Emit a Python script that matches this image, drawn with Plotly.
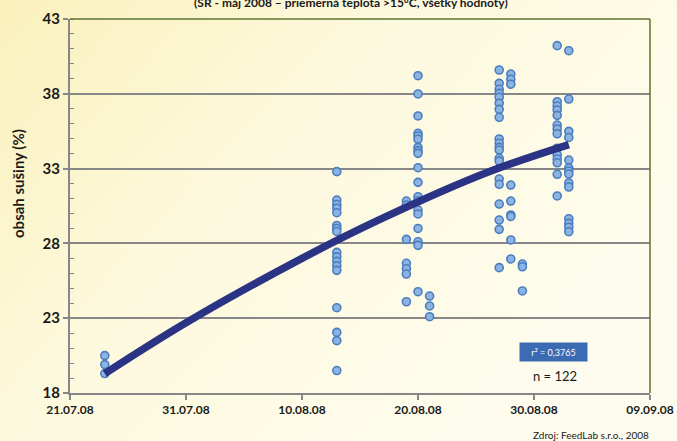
import plotly.graph_objects as go

# ---- data ----
sample_dates = ['2008-07-24', '2008-08-13', '2008-08-19', '2008-08-20', '2008-08-21',
                '2008-08-27', '2008-08-28', '2008-08-29', '2008-09-01', '2008-09-02']
vals_0724 = [20.5, 19.9, 19.3]
vals_0813 = [32.8, 30.9, 30.6, 30.35, 30.05, 29.2, 29.0, 28.8, 27.4, 27.1, 26.8, 26.5, 26.2,
             23.7, 22.05, 21.5, 19.5]
vals_0819 = [30.83, 30.57, 28.27, 26.67, 26.31, 25.95, 24.1]
vals_0820 = [39.21, 37.99, 36.52, 35.36, 35.18, 34.96, 34.42, 34.2, 34.02, 33.06, 32.08, 31.12,
             30.85, 30.23, 29.97, 29.0, 28.11, 27.87, 24.77]
vals_0821 = [24.48, 23.82, 23.1]
vals_0827 = [39.59, 38.70, 38.30, 38.03, 37.77, 37.37, 36.96, 36.43, 34.98, 34.69, 34.42, 34.24,
             33.69, 33.5, 32.30, 31.95, 30.63, 29.56, 28.94, 26.38]
vals_0828 = [39.32, 38.97, 38.64, 31.9, 30.83, 29.9, 29.8, 28.23, 26.96]
vals_0829 = [26.62, 26.44, 24.82]
vals_0901 = [41.22, 37.47, 37.18, 36.92, 36.56, 35.91, 35.65, 35.33, 34.36, 33.91, 33.64, 33.39,
             32.62, 31.17]
vals_0902 = [40.88, 37.65, 35.49, 35.08, 33.57, 33.04, 32.84, 32.64, 32.04, 31.77, 29.65, 29.34,
             29.08, 28.78]

trend_dates = ['2008-07-24', '2008-07-31', '2008-08-10', '2008-08-17', '2008-08-26', '2008-09-02']
trend_vals = [19.3, 22.7, 27.0, 29.7, 32.75, 34.6]

x_tick_vals = ['2008-07-21', '2008-07-31', '2008-08-10', '2008-08-20', '2008-08-30', '2008-09-09']
x_tick_text = ['21.07.08', '31.07.08', '10.08.08', '20.08.08', '30.08.08', '09.09.08']

title_text = '(SR - máj 2008 – priemerná teplota >15°C, všetky hodnoty)'
y_title = 'obsah sušiny (%)'
r2_text = 'r² = 0,3765'
n_text = 'n = 122'
source_text = 'Zdroj: FeedLab s.r.o., 2008'

groups = [vals_0724, vals_0813, vals_0819, vals_0820, vals_0821,
          vals_0827, vals_0828, vals_0829, vals_0901, vals_0902]
xs, ys = [], []
for d, vals in zip(sample_dates, groups):
    xs += [d] * len(vals)
    ys += vals

FONT = 'Lato'
GRAY = '#878787'
GREEN = '#5E7432'

fig = go.Figure()
fig.add_trace(go.Scatter(
    x=xs, y=ys, mode='markers',
    marker=dict(size=8, color='#8DB3E2', line=dict(color='#4A7EBF', width=1.6)),
    showlegend=False, hoverinfo='skip'))
fig.add_trace(go.Scatter(
    x=trend_dates, y=trend_vals, mode='lines', line_shape='spline',
    line=dict(color='#2B3484', width=7.5), showlegend=False, hoverinfo='skip'))

bg_svg = ("data:image/svg+xml;utf8,<svg xmlns='http://www.w3.org/2000/svg' width='677' height='441'>"
          "<defs><linearGradient id='g' x1='0' y1='0' x2='1' y2='0.6'>"
          "<stop offset='0' stop-color='%23FAF1BC'/><stop offset='0.45' stop-color='%23FDF9DE'/>"
          "<stop offset='1' stop-color='%23FEFCEE'/></linearGradient></defs>"
          "<rect width='677' height='441' fill='url(%23g)'/></svg>")

fig.update_layout(
    width=677, height=441, autosize=False,
    margin=dict(l=70, r=27, t=19, b=48, pad=0, autoexpand=False),
    paper_bgcolor='#FCF7D6', plot_bgcolor='rgba(0,0,0,0)',
    font=dict(family=FONT, color='#1A1A1A'),
    images=[dict(source=bg_svg, xref='paper', yref='paper', x=-70/580, y=1+19/374,
                 sizex=677/580, sizey=441/374, sizing='stretch', layer='below',
                 xanchor='left', yanchor='top')],
    xaxis=dict(type='date', range=['2008-07-21', '2008-09-09'], automargin=False,
               tickmode='array', tickvals=x_tick_vals, ticktext=x_tick_text,
               ticks='outside', ticklen=5, tickwidth=1.5, tickcolor=GRAY,
               showline=True, linecolor=GRAY, linewidth=2, showgrid=False, zeroline=False,
               tickfont=dict(family=FONT, size=12, color='#1A1A1A', weight='bold')),
    yaxis=dict(range=[18, 43], tickmode='linear', tick0=18, dtick=5, automargin=False,
               ticks='outside', ticklen=5, tickwidth=1.5, tickcolor=GRAY,
               showline=True, linecolor=GRAY, linewidth=2,
               showgrid=True, gridcolor=GRAY, gridwidth=1.5, zeroline=False,
               minor=dict(dtick=1, tick0=18, ticks='inside', ticklen=4, tickcolor=GRAY,
                          tickwidth=1.2, showgrid=False),
               tickfont=dict(family=FONT, size=15, color='#1A1A1A', weight='bold')),
    shapes=[
        dict(type='line', xref='paper', yref='paper', x0=0, x1=1, y0=1, y1=1,
             line=dict(color=GREEN, width=1.5)),
        dict(type='line', xref='paper', yref='paper', x0=1, x1=1, y0=0, y1=1,
             line=dict(color=GREEN, width=1.5)),
    ],
    annotations=[
        dict(text=title_text, xref='paper', yref='paper', x=(351-70)/580, y=(393-2)/374,
             xanchor='center', yanchor='middle', showarrow=False,
             font=dict(family=FONT, size=12, color='#1A1A1A', weight='bold')),
        dict(text=y_title, xref='paper', yref='paper', x=(18-70)/580, y=(393-184)/374,
             xanchor='center', yanchor='middle', textangle=-90, showarrow=False,
             font=dict(family=FONT, size=15, color='#1A1A1A', weight='bold')),
        dict(text=r2_text, xref='paper', yref='paper', x=(553.5-70)/580, y=(393-352)/374,
             xanchor='center', yanchor='middle', showarrow=False,
             bgcolor='#3B6BB3', borderpad=3, width=61, height=12,
             font=dict(family=FONT, size=9, color='white')),
        dict(text=n_text, xref='paper', yref='paper', x=(555-70)/580, y=(393-376)/374,
             xanchor='center', yanchor='middle', showarrow=False,
             font=dict(family=FONT, size=13, color='#1A1A1A')),
        dict(text=source_text, xref='paper', yref='paper', x=(651-70)/580, y=(393-435)/374,
             xanchor='right', yanchor='middle', showarrow=False,
             font=dict(family=FONT, size=10, color='#1A1A1A')),
    ],
)

fig.write_html('out.html', config={'displayModeBar': False},
               post_script="document.body.style.margin='0';document.body.style.overflow='hidden';")
